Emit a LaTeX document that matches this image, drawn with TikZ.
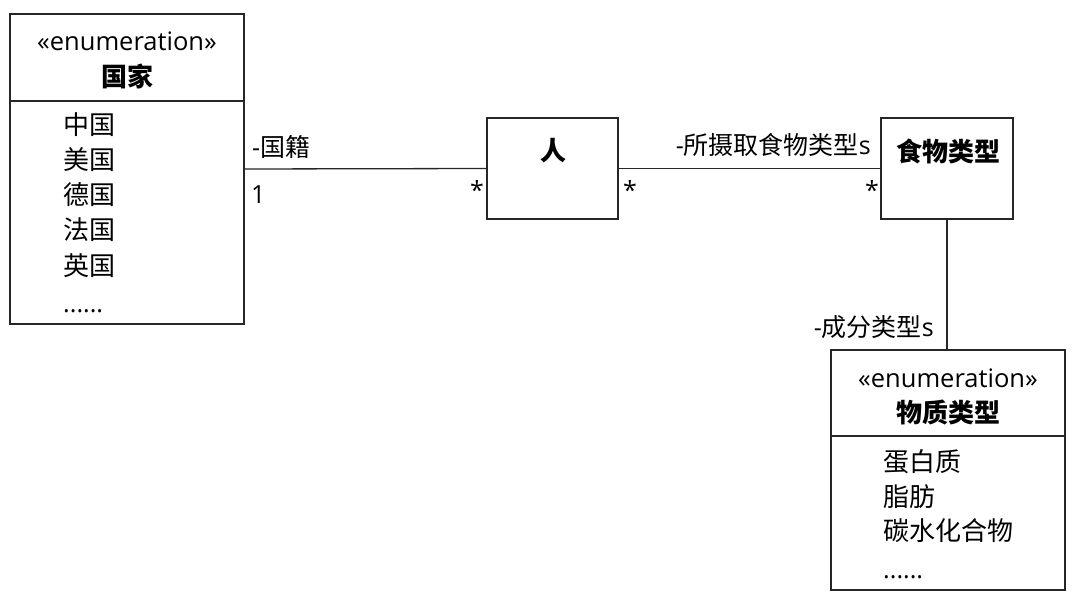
\documentclass[tikz,border=0pt]{standalone}
\usepackage{fontspec}
\setmainfont{Open Sans}
\newfontfamily\cjk{Noto Sans CJK SC}
\begin{document}
\begin{tikzpicture}[x=1pt,y=-1pt,
  box/.style={draw=black!85,line width=1.3pt,rectangle,inner sep=0pt,outer sep=0pt},
  conn/.style={draw=black!85,line width=1.3pt},
  txt/.style={inner sep=0pt,font=\fontsize{25}{28}\selectfont},
  stereo/.style={inner sep=0pt,font=\fontsize{25.5}{28}\selectfont},
  title/.style={inner sep=0pt,font=\fontsize{26}{28}\selectfont\cjk\bfseries},
  item/.style={inner sep=0pt,anchor=west,font=\fontsize{26}{28}\selectfont\cjk},
  dots/.style={inner sep=0pt,anchor=base west,font=\fontsize{25}{28}\selectfont}]
\useasboundingbox (0,0) rectangle (1080,599);
% boxes
\node[box,minimum width=234pt,minimum height=310pt] (country) at (127,169) {};
\node[box,minimum width=131pt,minimum height=101pt] (person) at (552.5,168.5) {};
\node[box,minimum width=132pt,minimum height=101pt] (food) at (947,168.5) {};
\node[box,minimum width=234pt,minimum height=240pt] (mat) at (948,470) {};
% dividers
\coordinate (cdivL) at (10,101);
\coordinate (mdivL) at (831,436);
\draw[conn] (cdivL) -- (cdivL -| country.east);
\draw[conn] (mdivL) -- (mdivL -| mat.east);
% connectors
\draw[conn] (country.east) -- (person.west);
\draw[conn] (person.east) -- (food.west);
\draw[conn] (mat.north -| food.south) -- (food.south);
% country texts
\node[stereo] (cst) at (127,41) {«enumeration»};
\node[title] (ctitle) at (127,76) {国家};
\node[item] (c1) at (63,125) {中国};
\node[item] (c2) at (63,160) {美国};
\node[item] (c3) at (63,195) {德国};
\node[item] (c4) at (63,230) {法国};
\node[item] (c5) at (63,266) {英国};
\node[dots] (c6) at (63,312) {......};
% person / food titles
\node[title] (ptitle) at (553,151) {人};
\node[title] (ftitle) at (948,151) {食物类型};
% material texts
\node[stereo] (mst) at (948,378) {«enumeration»};
\node[title] (mtitle) at (948,413) {物质类型};
\node[item] (m1) at (883,462) {蛋白质};
\node[item] (m2) at (883,497) {脂肪};
\node[item] (m3) at (883,531) {碳水化合物};
\node[dots] (m4) at (883,578) {......};
% association labels
\node[txt,anchor=west] (l1) at (252,147) {-{\cjk 国籍}};
\node[txt,anchor=west] (l2) at (251,195) {1};
\node[txt] (l3) at (477,190) {*};
\node[txt] (l4) at (630,190) {*};
\node[txt] (l5) at (872,190) {*};
\node[txt,anchor=east] (l6) at (871,145) {-{\cjk 所摄取食物类型}s};
\node[txt,anchor=east] (l7) at (934,327) {-{\cjk 成分类型}s};
\end{tikzpicture}
\end{document}
